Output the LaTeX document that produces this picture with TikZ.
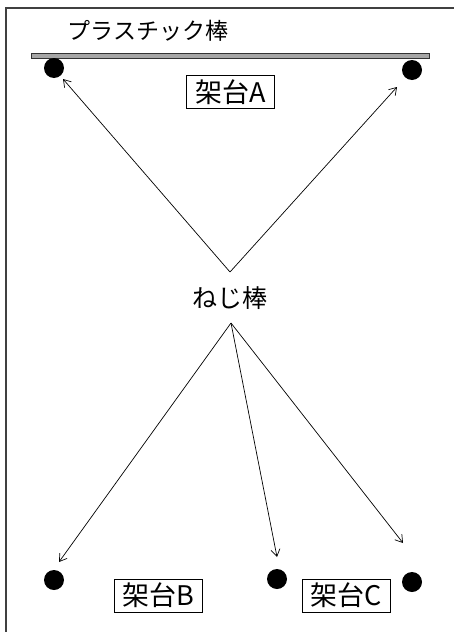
\documentclass[tikz,border=0pt]{standalone}
\usepackage{fontspec}
\setmainfont{Noto Sans CJK JP}
\usetikzlibrary{arrows.meta}

\begin{document}
\begin{tikzpicture}[x=1pt, y=-1pt, >={Straight Barb[length=7pt,width=9pt]},
    dai/.style={circle, fill=black, inner sep=0pt, minimum size=20pt},
    daibox/.style={draw, line width=0.8pt, inner sep=2pt, minimum height=33pt, font=\fontsize{27}{27}\selectfont},
    ya/.style={->, line width=0.7pt}]
    \useasboundingbox (0,0) rectangle (454,632);

    % 枠線 (上と左)
    \draw[line width=1.4pt, black!75] (6,632) -- (6,8) -- (454,8);

    % プラスチック棒
    \node[font=\fontsize{23}{23}\selectfont] (title) at (148,31) {プラスチック棒};
    \draw[fill=black!35, draw=black!80, line width=0.9pt] (31,53) rectangle (429,58);

    % 支点 (黒丸)
    \node[dai] (p1) at (54,68) {};
    \node[dai] (p2) at (412,70) {};
    \node[dai] (p3) at (54,580) {};
    \node[dai] (p4) at (277,579) {};
    \node[dai] (p5) at (412,582) {};

    % 架台ラベル
    \node[daibox, minimum width=88pt] (kA) at (230.5,92) {架台A};
    \node[daibox, minimum width=88pt] (kB) at (158,595.5) {架台B};
    \node[daibox, minimum width=88pt] (kC) at (346,595.5) {架台C};

    % ねじ棒と矢印
    \node[font=\fontsize{25}{25}\selectfont] (neji) at (230,298) {ねじ棒};
    \coordinate (nUp) at (230,272);
    \coordinate (nDn) at (231,323);
    \coordinate (t1) at (63,79);
    \coordinate (t2) at (397,87);
    \coordinate (t3) at (59,562);
    \coordinate (t4) at (277,557);
    \coordinate (t5) at (403,543);
    \draw[ya] (nUp) -- (t1);
    \draw[ya] (nUp) -- (t2);
    \draw[ya] (nDn) -- (t3);
    \draw[ya] (nDn) -- (t4);
    \draw[ya] (nDn) -- (t5);
\end{tikzpicture}
\end{document}
